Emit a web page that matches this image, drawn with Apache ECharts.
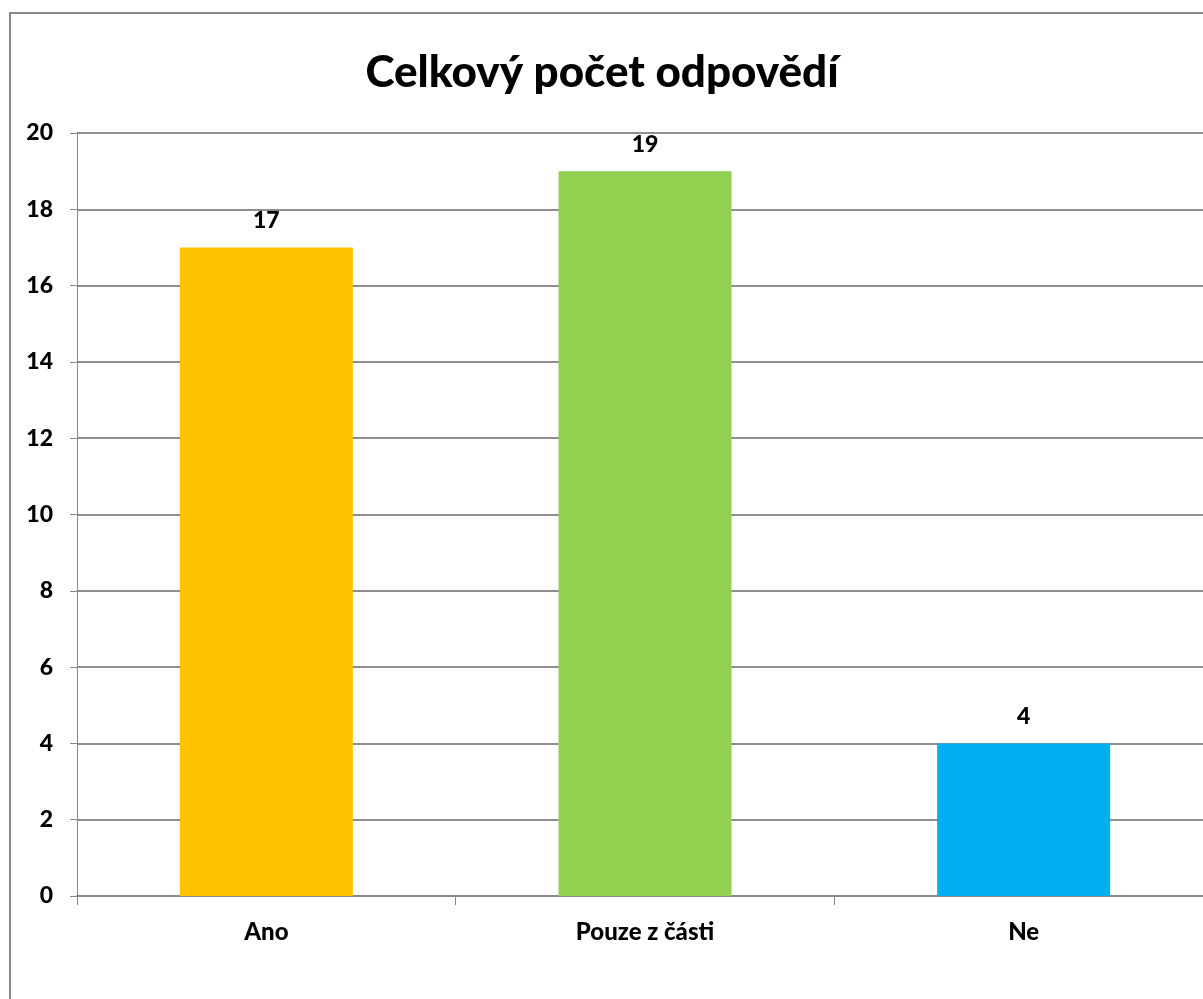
<!DOCTYPE html>
<html><head><meta charset="utf-8">
<script src="https://cdn.jsdelivr.net/npm/echarts@6/dist/echarts.min.js"></script>
<style>html,body{margin:0;padding:0;overflow:hidden;background:#fff;width:1203px;height:999px}
#c{position:absolute;left:0;top:0;width:1240px;height:999px}</style>
</head><body><div id="c"></div>
<script>
const categories = ['Ano', 'Pouze z části', 'Ne'];
const values = [17, 19, 4];
const barColors = ['#FFC000', '#92D050', '#00B0F0'];
const titleText = 'Celkový počet odpovědí';
const FONT = 'Lato, "Open Sans", sans-serif';
const W = 900;

const chart = echarts.init(document.getElementById('c'), null, {renderer: 'canvas'});
chart.setOption({
  animation: false,
  backgroundColor: '#fff',
  title: {
    text: titleText, left: 597, top: 46, textAlign: 'center',
    textStyle: {fontFamily: FONT, fontWeight: W, fontSize: 44, color: '#000'}
  },
  graphic: [{
    type: 'rect', shape: {x: 10, y: 13, width: 1400, height: 1200},
    style: {fill: 'none', stroke: '#888', lineWidth: 2}, z: 0
  }],
  grid: {left: 77, top: 133, right: 27, bottom: 103, containLabel: false},
  xAxis: {
    type: 'category', data: categories,
    axisLine: {show: true, lineStyle: {color: '#888', width: 2}},
    axisTick: {show: true, length: 9, lineStyle: {color: '#888', width: 1}},
    axisLabel: {fontFamily: FONT, fontWeight: W, fontSize: 24, color: '#000', margin: 24}
  },
  yAxis: {
    type: 'value', min: 0, max: 20, interval: 2,
    axisLine: {show: true, lineStyle: {color: '#888', width: 1}},
    axisTick: {show: true, length: 7, lineStyle: {color: '#888'}},
    axisLabel: {fontFamily: FONT, fontWeight: W, fontSize: 23, color: '#000', margin: 24},
    splitLine: {show: true, lineStyle: {color: '#8e8e8e', width: 2}}
  },
  series: [{
    type: 'bar', barWidth: 173,
    data: values.map((v, i) => ({value: v, itemStyle: {color: barColors[i]}})),
    label: {show: true, position: 'top', distance: 15, fontFamily: FONT, fontWeight: W, fontSize: 23, color: '#000'}
  }]
});
</script></body></html>
